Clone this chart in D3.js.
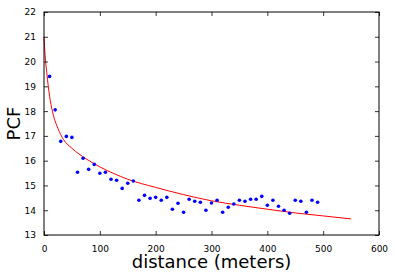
<!DOCTYPE html>
<html>
<head>
<meta charset="utf-8">
<script src="https://cdn.jsdelivr.net/npm/d3@7"></script>
<style>
  body { margin: 0; background: #fff; }
  text { font-family: "DejaVu Sans", sans-serif; fill: #000; }
</style>
</head>
<body>
<svg id="chart" width="395" height="279"></svg>
<script>
const margin = { top: 12, right: 16, bottom: 44, left: 44 };
const width = 395;
const height = 279;
const innerWidth = width - margin.left - margin.right;
const innerHeight = height - margin.top - margin.bottom;

// measured points (distance, PCF)
const distances = [10, 20, 30, 40, 50, 60, 70, 80, 90, 100, 110, 120, 130, 140, 150, 160, 170, 180, 190, 200,
  210, 220, 230, 240, 250, 260, 270, 280, 290, 300, 310, 320, 330, 340, 350, 360, 370, 380, 390, 400,
  410, 420, 430, 440, 450, 460, 470, 480, 490];
const pcfValues = [19.4, 18.05, 16.78, 16.98, 16.94, 15.53, 16.1, 15.65, 15.85, 15.49, 15.53, 15.25, 15.21, 14.88, 15.09, 15.18, 14.4, 14.6, 14.48, 14.52,
  14.4, 14.52, 14.04, 14.28, 13.92, 14.44, 14.36, 14.32, 14.0, 14.29, 14.4, 13.92, 14.12, 14.25, 14.4, 14.36, 14.44, 14.44, 14.56, 14.2,
  14.4, 14.16, 14.0, 13.88, 14.4, 14.36, 13.92, 14.4, 14.32];

// fitted curve
const fitX = [0, 2, 5, 10, 15, 25, 35, 50, 75, 100, 125, 150, 200, 250, 300, 350, 400, 450, 500, 550];
const fitY = [21.0, 20.25, 19.55, 18.6, 18.0, 17.3, 16.85, 16.5, 16.08, 15.75, 15.48, 15.25, 14.92, 14.63, 14.38, 14.2, 14.04, 13.89, 13.77, 13.65];

const xTicks = [0, 100, 200, 300, 400, 500, 600];
const yTicks = [13, 14, 15, 16, 17, 18, 19, 20, 21, 22];

const pointColor = "#0000ff";
const lineColor = "#ff0000";

const svg = d3.select("#chart");
const g = svg.append("g").attr("transform", `translate(${margin.left},${margin.top})`);

const xScale = d3.scaleLinear().domain([0, 600]).range([0, innerWidth]);
const yScale = d3.scaleLinear().domain([13, 22]).range([innerHeight, 0]);

const points = distances.map((d, i) => ({ x: d, y: pcfValues[i] }));
const fit = fitX.map((d, i) => ({ x: d, y: fitY[i] }));

// fit line
const line = d3.line()
  .x(d => xScale(d.x))
  .y(d => yScale(d.y))
  .curve(d3.curveMonotoneX);

g.append("path")
  .datum(fit)
  .attr("fill", "none")
  .attr("stroke", lineColor)
  .attr("stroke-width", 1)
  .attr("d", line);

g.selectAll("circle")
  .data(points)
  .join("circle")
  .attr("cx", d => xScale(d.x))
  .attr("cy", d => yScale(d.y))
  .attr("r", 1.8)
  .attr("fill", pointColor);

// axes, ticks inward on all sides
const tickLen = 4;
const styleAxis = sel => {
  sel.select(".domain").remove();
  sel.selectAll("line").attr("stroke", "#000").attr("stroke-width", 0.8);
  sel.selectAll("text").style("font-size", "9px").style("font-family", "DejaVu Sans, sans-serif");
};
const noLabels = sel => sel.selectAll("text").remove();

g.append("g")
  .attr("transform", `translate(0,${innerHeight})`)
  .call(d3.axisBottom(xScale).tickValues(xTicks).tickSize(-tickLen).tickPadding(7 + tickLen))
  .call(styleAxis);

g.append("g")
  .call(d3.axisTop(xScale).tickValues(xTicks).tickSize(-tickLen))
  .call(styleAxis)
  .call(noLabels);

g.append("g")
  .call(d3.axisLeft(yScale).tickValues(yTicks).tickSize(-tickLen).tickPadding(4 + tickLen))
  .call(styleAxis);

g.append("g")
  .attr("transform", `translate(${innerWidth},0)`)
  .call(d3.axisRight(yScale).tickValues(yTicks).tickSize(-tickLen))
  .call(styleAxis)
  .call(noLabels);

// frame
g.append("rect")
  .attr("width", innerWidth)
  .attr("height", innerHeight)
  .attr("fill", "none")
  .attr("stroke", "#000")
  .attr("stroke-width", 1);

// labels
svg.append("text")
  .attr("x", margin.left + innerWidth / 2)
  .attr("y", 268)
  .attr("text-anchor", "middle")
  .style("font-size", "18px")
  .text("distance (meters)");

svg.append("text")
  .attr("transform", `translate(20,${margin.top + innerHeight / 2}) rotate(-90)`)
  .attr("text-anchor", "middle")
  .style("font-size", "18px")
  .text("PCF");
</script>
</body>
</html>
